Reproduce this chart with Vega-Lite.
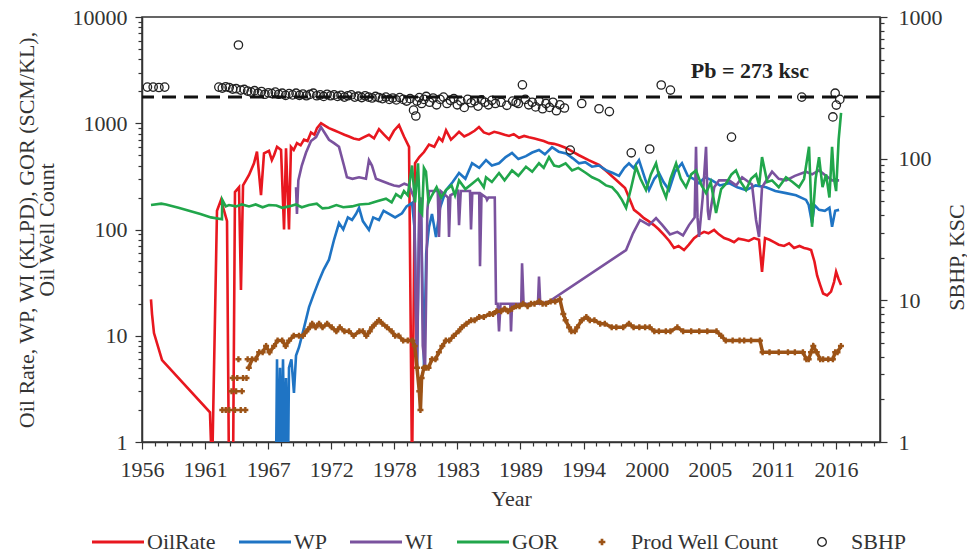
{
  "$schema": "https://vega.github.io/schema/vega-lite/v6.json",
  "width": 738,
  "height": 425,
  "padding": {"left": 15, "top": 6, "right": 0, "bottom": 4},
  "background": "white",
  "config": {
    "font": "Liberation Serif",
    "view": {"stroke": "#333", "strokeWidth": 1.5},
    "axis": {
      "grid": false,
      "domainColor": "#333",
      "domainWidth": 1.5,
      "tickColor": "#333",
      "tickWidth": 1.2,
      "labelColor": "#333",
      "titleColor": "#333",
      "labelFont": "Liberation Serif",
      "titleFont": "Liberation Serif",
      "labelFontSize": 22,
      "titleFontSize": 22,
      "titleFontWeight": "normal",
      "labelFlush": false
    }
  },
  "data": {
    "values": [
      {"series": "OilRate", "year": 1957.11, "value": 22},
      {"series": "OilRate", "year": 1957.2, "value": 16},
      {"series": "OilRate", "year": 1957.37, "value": 10.6},
      {"series": "OilRate", "year": 1958.07, "value": 5.9},
      {"series": "OilRate", "year": 1962.23, "value": 1.9},
      {"series": "OilRate", "year": 1962.41, "value": 0.5},
      {"series": "OilRate", "year": 1962.84, "value": 150},
      {"series": "OilRate", "year": 1963.19, "value": 190},
      {"series": "OilRate", "year": 1963.71, "value": 120},
      {"series": "OilRate", "year": 1963.88, "value": 0.5},
      {"series": "OilRate", "year": 1964.23, "value": 0.5},
      {"series": "OilRate", "year": 1964.4, "value": 225},
      {"series": "OilRate", "year": 1964.75, "value": 250},
      {"series": "OilRate", "year": 1964.92, "value": 27},
      {"series": "OilRate", "year": 1965.1, "value": 260},
      {"series": "OilRate", "year": 1965.62, "value": 326},
      {"series": "OilRate", "year": 1966.05, "value": 420},
      {"series": "OilRate", "year": 1966.31, "value": 540},
      {"series": "OilRate", "year": 1966.66, "value": 211},
      {"series": "OilRate", "year": 1966.92, "value": 520},
      {"series": "OilRate", "year": 1967.35, "value": 550},
      {"series": "OilRate", "year": 1967.6, "value": 450},
      {"series": "OilRate", "year": 1967.79, "value": 500},
      {"series": "OilRate", "year": 1968.05, "value": 600},
      {"series": "OilRate", "year": 1968.4, "value": 560},
      {"series": "OilRate", "year": 1968.66, "value": 100},
      {"series": "OilRate", "year": 1968.83, "value": 580},
      {"series": "OilRate", "year": 1969.09, "value": 100},
      {"series": "OilRate", "year": 1969.26, "value": 600},
      {"series": "OilRate", "year": 1969.5, "value": 560},
      {"series": "OilRate", "year": 1969.78, "value": 650},
      {"series": "OilRate", "year": 1970.1, "value": 620},
      {"series": "OilRate", "year": 1970.39, "value": 700},
      {"series": "OilRate", "year": 1970.7, "value": 680},
      {"series": "OilRate", "year": 1971.0, "value": 820},
      {"series": "OilRate", "year": 1971.3, "value": 780},
      {"series": "OilRate", "year": 1971.52, "value": 900},
      {"series": "OilRate", "year": 1971.87, "value": 1000},
      {"series": "OilRate", "year": 1972.2, "value": 950},
      {"series": "OilRate", "year": 1972.56, "value": 900},
      {"series": "OilRate", "year": 1973.0, "value": 860},
      {"series": "OilRate", "year": 1973.43, "value": 820},
      {"series": "OilRate", "year": 1973.9, "value": 780},
      {"series": "OilRate", "year": 1974.3, "value": 750},
      {"series": "OilRate", "year": 1974.7, "value": 720},
      {"series": "OilRate", "year": 1975.17, "value": 700},
      {"series": "OilRate", "year": 1975.6, "value": 740},
      {"series": "OilRate", "year": 1976.03, "value": 780},
      {"series": "OilRate", "year": 1976.47, "value": 720},
      {"series": "OilRate", "year": 1976.9, "value": 880},
      {"series": "OilRate", "year": 1977.34, "value": 780},
      {"series": "OilRate", "year": 1977.77, "value": 700},
      {"series": "OilRate", "year": 1978.2, "value": 850},
      {"series": "OilRate", "year": 1978.64, "value": 960},
      {"series": "OilRate", "year": 1979.07, "value": 750},
      {"series": "OilRate", "year": 1979.51, "value": 600},
      {"series": "OilRate", "year": 1979.77, "value": 0.5},
      {"series": "OilRate", "year": 1980.03, "value": 420},
      {"series": "OilRate", "year": 1980.4, "value": 480},
      {"series": "OilRate", "year": 1980.81, "value": 536},
      {"series": "OilRate", "year": 1981.24, "value": 630},
      {"series": "OilRate", "year": 1981.7, "value": 600},
      {"series": "OilRate", "year": 1982.11, "value": 730},
      {"series": "OilRate", "year": 1982.4, "value": 680},
      {"series": "OilRate", "year": 1982.72, "value": 860},
      {"series": "OilRate", "year": 1983.15, "value": 700},
      {"series": "OilRate", "year": 1983.5, "value": 760},
      {"series": "OilRate", "year": 1983.85, "value": 830},
      {"series": "OilRate", "year": 1984.3, "value": 750},
      {"series": "OilRate", "year": 1984.72, "value": 790},
      {"series": "OilRate", "year": 1985.2, "value": 850},
      {"series": "OilRate", "year": 1985.58, "value": 920},
      {"series": "OilRate", "year": 1986.0, "value": 820},
      {"series": "OilRate", "year": 1986.45, "value": 790},
      {"series": "OilRate", "year": 1986.9, "value": 830},
      {"series": "OilRate", "year": 1987.32, "value": 810},
      {"series": "OilRate", "year": 1987.8, "value": 780},
      {"series": "OilRate", "year": 1988.19, "value": 760},
      {"series": "OilRate", "year": 1988.6, "value": 790},
      {"series": "OilRate", "year": 1989.06, "value": 730},
      {"series": "OilRate", "year": 1989.5, "value": 760},
      {"series": "OilRate", "year": 1989.92, "value": 740},
      {"series": "OilRate", "year": 1990.4, "value": 720},
      {"series": "OilRate", "year": 1990.79, "value": 700},
      {"series": "OilRate", "year": 1991.2, "value": 680},
      {"series": "OilRate", "year": 1991.66, "value": 650},
      {"series": "OilRate", "year": 1992.1, "value": 640},
      {"series": "OilRate", "year": 1992.53, "value": 620},
      {"series": "OilRate", "year": 1993.14, "value": 585},
      {"series": "OilRate", "year": 1993.7, "value": 540},
      {"series": "OilRate", "year": 1994.26, "value": 500},
      {"series": "OilRate", "year": 1995.1, "value": 450},
      {"series": "OilRate", "year": 1996.0, "value": 405},
      {"series": "OilRate", "year": 1996.7, "value": 350},
      {"series": "OilRate", "year": 1997.3, "value": 305},
      {"series": "OilRate", "year": 1998.26, "value": 246},
      {"series": "OilRate", "year": 1998.6, "value": 200},
      {"series": "OilRate", "year": 1999.04, "value": 153},
      {"series": "OilRate", "year": 1999.5, "value": 140},
      {"series": "OilRate", "year": 1999.9, "value": 128},
      {"series": "OilRate", "year": 2000.3, "value": 120},
      {"series": "OilRate", "year": 2000.77, "value": 110},
      {"series": "OilRate", "year": 2001.2, "value": 100},
      {"series": "OilRate", "year": 2001.64, "value": 89},
      {"series": "OilRate", "year": 2002.1, "value": 78},
      {"series": "OilRate", "year": 2002.51, "value": 67},
      {"series": "OilRate", "year": 2002.9, "value": 70},
      {"series": "OilRate", "year": 2003.38, "value": 64},
      {"series": "OilRate", "year": 2003.8, "value": 72},
      {"series": "OilRate", "year": 2004.25, "value": 83},
      {"series": "OilRate", "year": 2004.7, "value": 90},
      {"series": "OilRate", "year": 2005.12, "value": 95},
      {"series": "OilRate", "year": 2005.5, "value": 92},
      {"series": "OilRate", "year": 2005.99, "value": 99},
      {"series": "OilRate", "year": 2006.4, "value": 90},
      {"series": "OilRate", "year": 2006.86, "value": 83},
      {"series": "OilRate", "year": 2007.3, "value": 80},
      {"series": "OilRate", "year": 2007.72, "value": 76},
      {"series": "OilRate", "year": 2008.1, "value": 82},
      {"series": "OilRate", "year": 2008.59, "value": 80},
      {"series": "OilRate", "year": 2009.0, "value": 78},
      {"series": "OilRate", "year": 2009.46, "value": 83},
      {"series": "OilRate", "year": 2009.89, "value": 80},
      {"series": "OilRate", "year": 2010.15, "value": 40},
      {"series": "OilRate", "year": 2010.41, "value": 83},
      {"series": "OilRate", "year": 2010.8, "value": 80},
      {"series": "OilRate", "year": 2011.19, "value": 76},
      {"series": "OilRate", "year": 2011.6, "value": 72},
      {"series": "OilRate", "year": 2012.06, "value": 70},
      {"series": "OilRate", "year": 2012.5, "value": 74},
      {"series": "OilRate", "year": 2012.93, "value": 67},
      {"series": "OilRate", "year": 2013.4, "value": 70},
      {"series": "OilRate", "year": 2013.8, "value": 67},
      {"series": "OilRate", "year": 2014.1, "value": 66},
      {"series": "OilRate", "year": 2014.41, "value": 64},
      {"series": "OilRate", "year": 2014.7, "value": 50},
      {"series": "OilRate", "year": 2014.93, "value": 37},
      {"series": "OilRate", "year": 2015.2, "value": 30},
      {"series": "OilRate", "year": 2015.45, "value": 25},
      {"series": "OilRate", "year": 2015.8, "value": 24},
      {"series": "OilRate", "year": 2016.14, "value": 26},
      {"series": "OilRate", "year": 2016.4, "value": 32},
      {"series": "OilRate", "year": 2016.58, "value": 40},
      {"series": "OilRate", "year": 2016.8, "value": 34},
      {"series": "OilRate", "year": 2017.01, "value": 30},

      {"series": "WP", "year": 1967.96, "value": 0.5},
      {"series": "WP", "year": 1968.05, "value": 6},
      {"series": "WP", "year": 1968.13, "value": 0.5},
      {"series": "WP", "year": 1968.31, "value": 5},
      {"series": "WP", "year": 1968.4, "value": 0.5},
      {"series": "WP", "year": 1968.57, "value": 6},
      {"series": "WP", "year": 1968.7, "value": 0.5},
      {"series": "WP", "year": 1968.83, "value": 4},
      {"series": "WP", "year": 1969.0, "value": 0.5},
      {"series": "WP", "year": 1969.09, "value": 5},
      {"series": "WP", "year": 1969.3, "value": 6},
      {"series": "WP", "year": 1969.52, "value": 2.9},
      {"series": "WP", "year": 1969.7, "value": 6.5},
      {"series": "WP", "year": 1969.96, "value": 7.8},
      {"series": "WP", "year": 1970.4, "value": 12},
      {"series": "WP", "year": 1970.83, "value": 18.6},
      {"series": "WP", "year": 1971.2, "value": 24},
      {"series": "WP", "year": 1971.69, "value": 33},
      {"series": "WP", "year": 1972.1, "value": 42},
      {"series": "WP", "year": 1972.56, "value": 52},
      {"series": "WP", "year": 1973.0, "value": 80},
      {"series": "WP", "year": 1973.43, "value": 115},
      {"series": "WP", "year": 1973.8, "value": 100},
      {"series": "WP", "year": 1974.2, "value": 130},
      {"series": "WP", "year": 1974.56, "value": 123},
      {"series": "WP", "year": 1974.9, "value": 140},
      {"series": "WP", "year": 1975.17, "value": 160},
      {"series": "WP", "year": 1975.5, "value": 120},
      {"series": "WP", "year": 1976.03, "value": 99},
      {"series": "WP", "year": 1976.4, "value": 130},
      {"series": "WP", "year": 1976.9, "value": 123},
      {"series": "WP", "year": 1977.3, "value": 150},
      {"series": "WP", "year": 1977.77, "value": 140},
      {"series": "WP", "year": 1978.3, "value": 130},
      {"series": "WP", "year": 1978.9, "value": 142},
      {"series": "WP", "year": 1979.3, "value": 165},
      {"series": "WP", "year": 1979.77, "value": 178},
      {"series": "WP", "year": 1980.0, "value": 100},
      {"series": "WP", "year": 1980.2, "value": 5},
      {"series": "WP", "year": 1980.4, "value": 120},
      {"series": "WP", "year": 1980.55, "value": 150},
      {"series": "WP", "year": 1980.7, "value": 20},
      {"series": "WP", "year": 1980.81, "value": 5},
      {"series": "WP", "year": 1981.0, "value": 60},
      {"series": "WP", "year": 1981.24, "value": 105},
      {"series": "WP", "year": 1981.5, "value": 140},
      {"series": "WP", "year": 1981.85, "value": 85},
      {"series": "WP", "year": 1982.2, "value": 160},
      {"series": "WP", "year": 1982.72, "value": 235},
      {"series": "WP", "year": 1983.3, "value": 280},
      {"series": "WP", "year": 1983.85, "value": 340},
      {"series": "WP", "year": 1984.4, "value": 300},
      {"series": "WP", "year": 1984.98, "value": 420},
      {"series": "WP", "year": 1985.6, "value": 380},
      {"series": "WP", "year": 1986.19, "value": 450},
      {"series": "WP", "year": 1986.7, "value": 400},
      {"series": "WP", "year": 1987.32, "value": 420},
      {"series": "WP", "year": 1987.9, "value": 480},
      {"series": "WP", "year": 1988.45, "value": 525},
      {"series": "WP", "year": 1989.0, "value": 460},
      {"series": "WP", "year": 1989.66, "value": 490},
      {"series": "WP", "year": 1990.2, "value": 530},
      {"series": "WP", "year": 1990.79, "value": 560},
      {"series": "WP", "year": 1991.3, "value": 510},
      {"series": "WP", "year": 1991.92, "value": 595},
      {"series": "WP", "year": 1992.5, "value": 540},
      {"series": "WP", "year": 1993.14, "value": 520},
      {"series": "WP", "year": 1993.7, "value": 470},
      {"series": "WP", "year": 1994.26, "value": 420},
      {"series": "WP", "year": 1994.8, "value": 430},
      {"series": "WP", "year": 1995.39, "value": 390},
      {"series": "WP", "year": 1996.0, "value": 400},
      {"series": "WP", "year": 1996.6, "value": 362},
      {"series": "WP", "year": 1997.2, "value": 340},
      {"series": "WP", "year": 1997.74, "value": 320},
      {"series": "WP", "year": 1998.2, "value": 380},
      {"series": "WP", "year": 1998.6, "value": 420},
      {"series": "WP", "year": 1999.0, "value": 380},
      {"series": "WP", "year": 1999.47, "value": 450},
      {"series": "WP", "year": 2000.0, "value": 300},
      {"series": "WP", "year": 2000.34, "value": 235},
      {"series": "WP", "year": 2000.8, "value": 300},
      {"series": "WP", "year": 2001.21, "value": 340},
      {"series": "WP", "year": 2001.6, "value": 280},
      {"series": "WP", "year": 2002.08, "value": 235},
      {"series": "WP", "year": 2002.6, "value": 350},
      {"series": "WP", "year": 2003.2, "value": 420},
      {"series": "WP", "year": 2003.7, "value": 320},
      {"series": "WP", "year": 2004.2, "value": 300},
      {"series": "WP", "year": 2004.68, "value": 273},
      {"series": "WP", "year": 2005.2, "value": 310},
      {"series": "WP", "year": 2005.81, "value": 290},
      {"series": "WP", "year": 2006.5, "value": 260},
      {"series": "WP", "year": 2007.29, "value": 273},
      {"series": "WP", "year": 2008.0, "value": 250},
      {"series": "WP", "year": 2008.76, "value": 235},
      {"series": "WP", "year": 2009.6, "value": 260},
      {"series": "WP", "year": 2010.5, "value": 250},
      {"series": "WP", "year": 2011.3, "value": 230},
      {"series": "WP", "year": 2012.23, "value": 220},
      {"series": "WP", "year": 2013.1, "value": 210},
      {"series": "WP", "year": 2013.97, "value": 190},
      {"series": "WP", "year": 2014.2, "value": 170},
      {"series": "WP", "year": 2014.49, "value": 115},
      {"series": "WP", "year": 2014.7, "value": 170},
      {"series": "WP", "year": 2015.1, "value": 153},
      {"series": "WP", "year": 2015.6, "value": 150},
      {"series": "WP", "year": 2016.0, "value": 160},
      {"series": "WP", "year": 2016.23, "value": 106},
      {"series": "WP", "year": 2016.5, "value": 150},
      {"series": "WP", "year": 2016.84, "value": 153},

      {"series": "WI", "year": 1969.7, "value": 250},
      {"series": "WI", "year": 1969.78, "value": 140},
      {"series": "WI", "year": 1969.9, "value": 290},
      {"series": "WI", "year": 1970.2, "value": 400},
      {"series": "WI", "year": 1970.57, "value": 530},
      {"series": "WI", "year": 1971.0, "value": 680},
      {"series": "WI", "year": 1971.44, "value": 740},
      {"series": "WI", "year": 1971.87, "value": 920},
      {"series": "WI", "year": 1972.22, "value": 800},
      {"series": "WI", "year": 1972.56, "value": 700},
      {"series": "WI", "year": 1973.0, "value": 650},
      {"series": "WI", "year": 1973.43, "value": 600},
      {"series": "WI", "year": 1973.86, "value": 400},
      {"series": "WI", "year": 1974.12, "value": 310},
      {"series": "WI", "year": 1974.6, "value": 300},
      {"series": "WI", "year": 1975.17, "value": 310},
      {"series": "WI", "year": 1975.77, "value": 300},
      {"series": "WI", "year": 1976.03, "value": 450},
      {"series": "WI", "year": 1976.29, "value": 400},
      {"series": "WI", "year": 1976.64, "value": 300},
      {"series": "WI", "year": 1977.2, "value": 285},
      {"series": "WI", "year": 1977.77, "value": 270},
      {"series": "WI", "year": 1978.2, "value": 260},
      {"series": "WI", "year": 1978.64, "value": 255},
      {"series": "WI", "year": 1979.1, "value": 270},
      {"series": "WI", "year": 1979.51, "value": 260},
      {"series": "WI", "year": 1979.94, "value": 200},
      {"series": "WI", "year": 1980.2, "value": 5},
      {"series": "WI", "year": 1980.4, "value": 180},
      {"series": "WI", "year": 1980.55, "value": 200},
      {"series": "WI", "year": 1980.7, "value": 8},
      {"series": "WI", "year": 1980.9, "value": 5},
      {"series": "WI", "year": 1981.1, "value": 150},
      {"series": "WI", "year": 1981.24, "value": 230},
      {"series": "WI", "year": 1982.0, "value": 230},
      {"series": "WI", "year": 1982.11, "value": 85},
      {"series": "WI", "year": 1982.25, "value": 230},
      {"series": "WI", "year": 1982.9, "value": 200},
      {"series": "WI", "year": 1982.98, "value": 85},
      {"series": "WI", "year": 1983.1, "value": 210},
      {"series": "WI", "year": 1983.75, "value": 230},
      {"series": "WI", "year": 1983.85, "value": 110},
      {"series": "WI", "year": 1984.0, "value": 230},
      {"series": "WI", "year": 1984.8, "value": 230},
      {"series": "WI", "year": 1984.89, "value": 100},
      {"series": "WI", "year": 1985.0, "value": 220},
      {"series": "WI", "year": 1985.6, "value": 220},
      {"series": "WI", "year": 1985.67, "value": 45},
      {"series": "WI", "year": 1985.8, "value": 215},
      {"series": "WI", "year": 1986.2, "value": 200},
      {"series": "WI", "year": 1986.28, "value": 190},
      {"series": "WI", "year": 1986.4, "value": 200},
      {"series": "WI", "year": 1986.95, "value": 200},
      {"series": "WI", "year": 1987.06, "value": 20},
      {"series": "WI", "year": 1987.2, "value": 20},
      {"series": "WI", "year": 1987.32, "value": 11},
      {"series": "WI", "year": 1987.45, "value": 20},
      {"series": "WI", "year": 1988.3, "value": 20},
      {"series": "WI", "year": 1988.36, "value": 11},
      {"series": "WI", "year": 1988.45, "value": 20},
      {"series": "WI", "year": 1989.25, "value": 20},
      {"series": "WI", "year": 1989.32, "value": 48},
      {"series": "WI", "year": 1989.45, "value": 20},
      {"series": "WI", "year": 1990.7, "value": 20},
      {"series": "WI", "year": 1990.79, "value": 36},
      {"series": "WI", "year": 1990.9, "value": 20},
      {"series": "WI", "year": 1991.66, "value": 21},
      {"series": "WI", "year": 1998.35, "value": 64},
      {"series": "WI", "year": 1998.95, "value": 92},
      {"series": "WI", "year": 1999.56, "value": 123},
      {"series": "WI", "year": 2000.34, "value": 110},
      {"series": "WI", "year": 2000.95, "value": 128},
      {"series": "WI", "year": 2001.5, "value": 110},
      {"series": "WI", "year": 2002.16, "value": 90},
      {"series": "WI", "year": 2002.8, "value": 95},
      {"series": "WI", "year": 2003.29, "value": 88},
      {"series": "WI", "year": 2003.81, "value": 110},
      {"series": "WI", "year": 2004.3, "value": 130},
      {"series": "WI", "year": 2004.42, "value": 600},
      {"series": "WI", "year": 2004.55, "value": 130},
      {"series": "WI", "year": 2004.68, "value": 85},
      {"series": "WI", "year": 2005.0, "value": 200},
      {"series": "WI", "year": 2005.29, "value": 600},
      {"series": "WI", "year": 2005.45, "value": 150},
      {"series": "WI", "year": 2005.55, "value": 123},
      {"series": "WI", "year": 2006.0, "value": 250},
      {"series": "WI", "year": 2006.42, "value": 290},
      {"series": "WI", "year": 2007.29, "value": 290},
      {"series": "WI", "year": 2007.9, "value": 260},
      {"series": "WI", "year": 2008.42, "value": 310},
      {"series": "WI", "year": 2009.28, "value": 265},
      {"series": "WI", "year": 2009.63, "value": 123},
      {"series": "WI", "year": 2009.89, "value": 85},
      {"series": "WI", "year": 2010.15, "value": 250},
      {"series": "WI", "year": 2011.02, "value": 350},
      {"series": "WI", "year": 2011.6, "value": 300},
      {"series": "WI", "year": 2012.23, "value": 290},
      {"series": "WI", "year": 2013.0, "value": 320},
      {"series": "WI", "year": 2013.97, "value": 350},
      {"series": "WI", "year": 2014.5, "value": 330},
      {"series": "WI", "year": 2015.1, "value": 360},
      {"series": "WI", "year": 2015.7, "value": 320},
      {"series": "WI", "year": 2016.23, "value": 290},
      {"series": "WI", "year": 2016.84, "value": 290},

      {"series": "GOR", "year": 1957.11, "value": 170},
      {"series": "GOR", "year": 1958.0, "value": 175},
      {"series": "GOR", "year": 1958.41, "value": 172},
      {"series": "GOR", "year": 1959.5, "value": 160},
      {"series": "GOR", "year": 1960.41, "value": 150},
      {"series": "GOR", "year": 1961.4, "value": 140},
      {"series": "GOR", "year": 1962.32, "value": 130},
      {"series": "GOR", "year": 1963.27, "value": 125},
      {"series": "GOR", "year": 1963.3, "value": 190},
      {"series": "GOR", "year": 1963.6, "value": 165},
      {"series": "GOR", "year": 1963.88, "value": 170},
      {"series": "GOR", "year": 1964.5, "value": 165},
      {"series": "GOR", "year": 1965.0, "value": 172},
      {"series": "GOR", "year": 1965.62, "value": 165},
      {"series": "GOR", "year": 1966.2, "value": 172},
      {"series": "GOR", "year": 1966.8, "value": 162},
      {"series": "GOR", "year": 1967.35, "value": 170},
      {"series": "GOR", "year": 1968.0, "value": 168},
      {"series": "GOR", "year": 1968.5, "value": 160},
      {"series": "GOR", "year": 1969.09, "value": 165},
      {"series": "GOR", "year": 1969.7, "value": 172},
      {"series": "GOR", "year": 1970.2, "value": 162},
      {"series": "GOR", "year": 1970.83, "value": 170},
      {"series": "GOR", "year": 1971.5, "value": 175},
      {"series": "GOR", "year": 1972.0, "value": 158},
      {"series": "GOR", "year": 1972.56, "value": 160},
      {"series": "GOR", "year": 1973.2, "value": 170},
      {"series": "GOR", "year": 1973.8, "value": 162},
      {"series": "GOR", "year": 1974.56, "value": 165},
      {"series": "GOR", "year": 1975.2, "value": 172},
      {"series": "GOR", "year": 1976.03, "value": 175},
      {"series": "GOR", "year": 1976.8, "value": 185},
      {"series": "GOR", "year": 1977.51, "value": 195},
      {"series": "GOR", "year": 1978.0, "value": 180},
      {"series": "GOR", "year": 1978.38, "value": 215},
      {"series": "GOR", "year": 1978.8, "value": 200},
      {"series": "GOR", "year": 1979.07, "value": 230},
      {"series": "GOR", "year": 1979.4, "value": 210},
      {"series": "GOR", "year": 1979.77, "value": 400},
      {"series": "GOR", "year": 1980.03, "value": 180},
      {"series": "GOR", "year": 1980.29, "value": 420},
      {"series": "GOR", "year": 1980.45, "value": 150},
      {"series": "GOR", "year": 1980.64, "value": 140},
      {"series": "GOR", "year": 1980.8, "value": 380},
      {"series": "GOR", "year": 1980.98, "value": 350},
      {"series": "GOR", "year": 1981.2, "value": 180},
      {"series": "GOR", "year": 1981.5, "value": 210},
      {"series": "GOR", "year": 1981.9, "value": 250},
      {"series": "GOR", "year": 1982.3, "value": 200},
      {"series": "GOR", "year": 1982.72, "value": 235},
      {"series": "GOR", "year": 1983.2, "value": 260},
      {"series": "GOR", "year": 1983.5, "value": 210},
      {"series": "GOR", "year": 1983.85, "value": 290},
      {"series": "GOR", "year": 1984.4, "value": 240},
      {"series": "GOR", "year": 1984.98, "value": 270},
      {"series": "GOR", "year": 1985.5, "value": 300},
      {"series": "GOR", "year": 1986.0, "value": 250},
      {"series": "GOR", "year": 1986.19, "value": 310},
      {"series": "GOR", "year": 1986.7, "value": 280},
      {"series": "GOR", "year": 1987.32, "value": 340},
      {"series": "GOR", "year": 1987.8, "value": 290},
      {"series": "GOR", "year": 1988.45, "value": 360},
      {"series": "GOR", "year": 1989.0, "value": 320},
      {"series": "GOR", "year": 1989.66, "value": 390},
      {"series": "GOR", "year": 1990.2, "value": 350},
      {"series": "GOR", "year": 1990.79, "value": 420},
      {"series": "GOR", "year": 1991.2, "value": 380},
      {"series": "GOR", "year": 1991.66, "value": 480},
      {"series": "GOR", "year": 1992.1, "value": 400},
      {"series": "GOR", "year": 1992.53, "value": 390},
      {"series": "GOR", "year": 1993.1, "value": 420},
      {"series": "GOR", "year": 1993.66, "value": 360},
      {"series": "GOR", "year": 1994.2, "value": 380},
      {"series": "GOR", "year": 1994.87, "value": 340},
      {"series": "GOR", "year": 1995.4, "value": 310},
      {"series": "GOR", "year": 1996.0, "value": 290},
      {"series": "GOR", "year": 1996.6, "value": 260},
      {"series": "GOR", "year": 1997.13, "value": 250},
      {"series": "GOR", "year": 1997.6, "value": 220},
      {"series": "GOR", "year": 1997.99, "value": 190},
      {"series": "GOR", "year": 1998.35, "value": 160},
      {"series": "GOR", "year": 1998.8, "value": 250},
      {"series": "GOR", "year": 1999.21, "value": 390},
      {"series": "GOR", "year": 1999.6, "value": 300},
      {"series": "GOR", "year": 2000.08, "value": 235},
      {"series": "GOR", "year": 2000.5, "value": 330},
      {"series": "GOR", "year": 2000.95, "value": 420},
      {"series": "GOR", "year": 2001.4, "value": 260},
      {"series": "GOR", "year": 2001.82, "value": 200},
      {"series": "GOR", "year": 2002.2, "value": 300},
      {"series": "GOR", "year": 2002.69, "value": 420},
      {"series": "GOR", "year": 2003.1, "value": 300},
      {"series": "GOR", "year": 2003.55, "value": 250},
      {"series": "GOR", "year": 2004.0, "value": 330},
      {"series": "GOR", "year": 2004.42, "value": 360},
      {"series": "GOR", "year": 2004.9, "value": 260},
      {"series": "GOR", "year": 2005.29, "value": 220},
      {"series": "GOR", "year": 2005.7, "value": 280},
      {"series": "GOR", "year": 2006.16, "value": 143},
      {"series": "GOR", "year": 2006.6, "value": 240},
      {"series": "GOR", "year": 2007.02, "value": 270},
      {"series": "GOR", "year": 2007.5, "value": 330},
      {"series": "GOR", "year": 2007.89, "value": 360},
      {"series": "GOR", "year": 2008.3, "value": 280},
      {"series": "GOR", "year": 2008.76, "value": 235},
      {"series": "GOR", "year": 2009.2, "value": 300},
      {"series": "GOR", "year": 2009.63, "value": 330},
      {"series": "GOR", "year": 2009.9, "value": 260},
      {"series": "GOR", "year": 2010.15, "value": 480},
      {"series": "GOR", "year": 2010.6, "value": 280},
      {"series": "GOR", "year": 2011.02, "value": 290},
      {"series": "GOR", "year": 2011.6, "value": 250},
      {"series": "GOR", "year": 2012.23, "value": 310},
      {"series": "GOR", "year": 2012.8, "value": 280},
      {"series": "GOR", "year": 2013.36, "value": 250},
      {"series": "GOR", "year": 2013.8, "value": 300},
      {"series": "GOR", "year": 2014.23, "value": 600},
      {"series": "GOR", "year": 2014.49, "value": 106},
      {"series": "GOR", "year": 2014.8, "value": 300},
      {"series": "GOR", "year": 2015.1, "value": 480},
      {"series": "GOR", "year": 2015.4, "value": 250},
      {"series": "GOR", "year": 2015.71, "value": 330},
      {"series": "GOR", "year": 2016.0, "value": 200},
      {"series": "GOR", "year": 2016.23, "value": 600},
      {"series": "GOR", "year": 2016.4, "value": 300},
      {"series": "GOR", "year": 2016.58, "value": 230},
      {"series": "GOR", "year": 2016.8, "value": 700},
      {"series": "GOR", "year": 2017.01, "value": 1250},

      {"series": "Prod Well Count", "year": 1963.3, "value": 2},
      {"series": "Prod Well Count", "year": 1963.6, "value": 2},
      {"series": "Prod Well Count", "year": 1963.9, "value": 2},
      {"series": "Prod Well Count", "year": 1964.1, "value": 3},
      {"series": "Prod Well Count", "year": 1964.2, "value": 4},
      {"series": "Prod Well Count", "year": 1964.4, "value": 2},
      {"series": "Prod Well Count", "year": 1964.5, "value": 3},
      {"series": "Prod Well Count", "year": 1964.6, "value": 4},
      {"series": "Prod Well Count", "year": 1964.7, "value": 6},
      {"series": "Prod Well Count", "year": 1964.9, "value": 2},
      {"series": "Prod Well Count", "year": 1965.0, "value": 3},
      {"series": "Prod Well Count", "year": 1965.1, "value": 4},
      {"series": "Prod Well Count", "year": 1965.3, "value": 2},
      {"series": "Prod Well Count", "year": 1965.4, "value": 4},
      {"series": "Prod Well Count", "year": 1965.5, "value": 6},
      {"series": "Prod Well Count", "year": 1965.6, "value": 5},
      {"series": "Prod Well Count", "year": 1965.88, "value": 6},
      {"series": "Prod Well Count", "year": 1966.2, "value": 6},
      {"series": "Prod Well Count", "year": 1966.5, "value": 7},
      {"series": "Prod Well Count", "year": 1966.8, "value": 7},
      {"series": "Prod Well Count", "year": 1967.1, "value": 8},
      {"series": "Prod Well Count", "year": 1967.4, "value": 7},
      {"series": "Prod Well Count", "year": 1967.8, "value": 8},
      {"series": "Prod Well Count", "year": 1968.1, "value": 9},
      {"series": "Prod Well Count", "year": 1968.5, "value": 9},
      {"series": "Prod Well Count", "year": 1968.8, "value": 8},
      {"series": "Prod Well Count", "year": 1969.1, "value": 9},
      {"series": "Prod Well Count", "year": 1969.5, "value": 10},
      {"series": "Prod Well Count", "year": 1969.96, "value": 10},
      {"series": "Prod Well Count", "year": 1970.3, "value": 10},
      {"series": "Prod Well Count", "year": 1970.6, "value": 11},
      {"series": "Prod Well Count", "year": 1970.9, "value": 12},
      {"series": "Prod Well Count", "year": 1971.1, "value": 13},
      {"series": "Prod Well Count", "year": 1971.4, "value": 12},
      {"series": "Prod Well Count", "year": 1971.7, "value": 13},
      {"series": "Prod Well Count", "year": 1972.0, "value": 12},
      {"series": "Prod Well Count", "year": 1972.4, "value": 13},
      {"series": "Prod Well Count", "year": 1972.8, "value": 12},
      {"series": "Prod Well Count", "year": 1973.2, "value": 11},
      {"series": "Prod Well Count", "year": 1973.5, "value": 12},
      {"series": "Prod Well Count", "year": 1973.9, "value": 11},
      {"series": "Prod Well Count", "year": 1974.3, "value": 11},
      {"series": "Prod Well Count", "year": 1974.7, "value": 10},
      {"series": "Prod Well Count", "year": 1975.2, "value": 11},
      {"series": "Prod Well Count", "year": 1975.5, "value": 11},
      {"series": "Prod Well Count", "year": 1975.8, "value": 10},
      {"series": "Prod Well Count", "year": 1976.1, "value": 11},
      {"series": "Prod Well Count", "year": 1976.3, "value": 12},
      {"series": "Prod Well Count", "year": 1976.6, "value": 13},
      {"series": "Prod Well Count", "year": 1976.9, "value": 14},
      {"series": "Prod Well Count", "year": 1977.2, "value": 13},
      {"series": "Prod Well Count", "year": 1977.6, "value": 12},
      {"series": "Prod Well Count", "year": 1978.0, "value": 11},
      {"series": "Prod Well Count", "year": 1978.3, "value": 10},
      {"series": "Prod Well Count", "year": 1978.6, "value": 10},
      {"series": "Prod Well Count", "year": 1979.0, "value": 9},
      {"series": "Prod Well Count", "year": 1979.4, "value": 9},
      {"series": "Prod Well Count", "year": 1979.8, "value": 9},
      {"series": "Prod Well Count", "year": 1980.0, "value": 8},
      {"series": "Prod Well Count", "year": 1980.2, "value": 5},
      {"series": "Prod Well Count", "year": 1980.4, "value": 3},
      {"series": "Prod Well Count", "year": 1980.5, "value": 2},
      {"series": "Prod Well Count", "year": 1980.6, "value": 4},
      {"series": "Prod Well Count", "year": 1980.8, "value": 5},
      {"series": "Prod Well Count", "year": 1980.98, "value": 5},
      {"series": "Prod Well Count", "year": 1981.2, "value": 5},
      {"series": "Prod Well Count", "year": 1981.5, "value": 6},
      {"series": "Prod Well Count", "year": 1981.8, "value": 6},
      {"series": "Prod Well Count", "year": 1982.1, "value": 7},
      {"series": "Prod Well Count", "year": 1982.4, "value": 8},
      {"series": "Prod Well Count", "year": 1982.7, "value": 9},
      {"series": "Prod Well Count", "year": 1983.0, "value": 9},
      {"series": "Prod Well Count", "year": 1983.4, "value": 10},
      {"series": "Prod Well Count", "year": 1983.8, "value": 11},
      {"series": "Prod Well Count", "year": 1984.1, "value": 12},
      {"series": "Prod Well Count", "year": 1984.5, "value": 13},
      {"series": "Prod Well Count", "year": 1984.9, "value": 14},
      {"series": "Prod Well Count", "year": 1985.2, "value": 14},
      {"series": "Prod Well Count", "year": 1985.6, "value": 15},
      {"series": "Prod Well Count", "year": 1986.0, "value": 15},
      {"series": "Prod Well Count", "year": 1986.5, "value": 16},
      {"series": "Prod Well Count", "year": 1986.8, "value": 16},
      {"series": "Prod Well Count", "year": 1987.1, "value": 17},
      {"series": "Prod Well Count", "year": 1987.5, "value": 17},
      {"series": "Prod Well Count", "year": 1987.8, "value": 18},
      {"series": "Prod Well Count", "year": 1988.1, "value": 17},
      {"series": "Prod Well Count", "year": 1988.45, "value": 18},
      {"series": "Prod Well Count", "year": 1988.8, "value": 19},
      {"series": "Prod Well Count", "year": 1989.1, "value": 19},
      {"series": "Prod Well Count", "year": 1989.4, "value": 20},
      {"series": "Prod Well Count", "year": 1989.8, "value": 19},
      {"series": "Prod Well Count", "year": 1990.1, "value": 20},
      {"series": "Prod Well Count", "year": 1990.4, "value": 20},
      {"series": "Prod Well Count", "year": 1990.8, "value": 21},
      {"series": "Prod Well Count", "year": 1991.1, "value": 20},
      {"series": "Prod Well Count", "year": 1991.4, "value": 20},
      {"series": "Prod Well Count", "year": 1991.8, "value": 21},
      {"series": "Prod Well Count", "year": 1992.2, "value": 21},
      {"series": "Prod Well Count", "year": 1992.6, "value": 22},
      {"series": "Prod Well Count", "year": 1992.9, "value": 16},
      {"series": "Prod Well Count", "year": 1993.1, "value": 14},
      {"series": "Prod Well Count", "year": 1993.4, "value": 12},
      {"series": "Prod Well Count", "year": 1993.6, "value": 11},
      {"series": "Prod Well Count", "year": 1993.9, "value": 11},
      {"series": "Prod Well Count", "year": 1994.1, "value": 12},
      {"series": "Prod Well Count", "year": 1994.5, "value": 14},
      {"series": "Prod Well Count", "year": 1994.9, "value": 15},
      {"series": "Prod Well Count", "year": 1995.2, "value": 14},
      {"series": "Prod Well Count", "year": 1995.6, "value": 14},
      {"series": "Prod Well Count", "year": 1996.1, "value": 13},
      {"series": "Prod Well Count", "year": 1996.5, "value": 13},
      {"series": "Prod Well Count", "year": 1997.1, "value": 12},
      {"series": "Prod Well Count", "year": 1997.5, "value": 12},
      {"series": "Prod Well Count", "year": 1998.1, "value": 12},
      {"series": "Prod Well Count", "year": 1998.6, "value": 13},
      {"series": "Prod Well Count", "year": 1999.0, "value": 12},
      {"series": "Prod Well Count", "year": 1999.5, "value": 12},
      {"series": "Prod Well Count", "year": 2000.0, "value": 12},
      {"series": "Prod Well Count", "year": 2000.4, "value": 12},
      {"series": "Prod Well Count", "year": 2000.8, "value": 11},
      {"series": "Prod Well Count", "year": 2001.2, "value": 11},
      {"series": "Prod Well Count", "year": 2001.8, "value": 11},
      {"series": "Prod Well Count", "year": 2002.2, "value": 11},
      {"series": "Prod Well Count", "year": 2002.8, "value": 12},
      {"series": "Prod Well Count", "year": 2003.3, "value": 11},
      {"series": "Prod Well Count", "year": 2004.0, "value": 11},
      {"series": "Prod Well Count", "year": 2004.7, "value": 11},
      {"series": "Prod Well Count", "year": 2005.4, "value": 11},
      {"series": "Prod Well Count", "year": 2006.2, "value": 11},
      {"series": "Prod Well Count", "year": 2006.6, "value": 10},
      {"series": "Prod Well Count", "year": 2007.0, "value": 9},
      {"series": "Prod Well Count", "year": 2007.6, "value": 9},
      {"series": "Prod Well Count", "year": 2008.2, "value": 9},
      {"series": "Prod Well Count", "year": 2008.6, "value": 9},
      {"series": "Prod Well Count", "year": 2009.2, "value": 9},
      {"series": "Prod Well Count", "year": 2009.97, "value": 9},
      {"series": "Prod Well Count", "year": 2010.2, "value": 7},
      {"series": "Prod Well Count", "year": 2010.8, "value": 7},
      {"series": "Prod Well Count", "year": 2011.6, "value": 7},
      {"series": "Prod Well Count", "year": 2012.4, "value": 7},
      {"series": "Prod Well Count", "year": 2013.0, "value": 7},
      {"series": "Prod Well Count", "year": 2013.7, "value": 7},
      {"series": "Prod Well Count", "year": 2014.0, "value": 6},
      {"series": "Prod Well Count", "year": 2014.2, "value": 6},
      {"series": "Prod Well Count", "year": 2014.4, "value": 7},
      {"series": "Prod Well Count", "year": 2014.6, "value": 8},
      {"series": "Prod Well Count", "year": 2014.9, "value": 7},
      {"series": "Prod Well Count", "year": 2015.2, "value": 6},
      {"series": "Prod Well Count", "year": 2015.45, "value": 6},
      {"series": "Prod Well Count", "year": 2015.9, "value": 6},
      {"series": "Prod Well Count", "year": 2016.3, "value": 6},
      {"series": "Prod Well Count", "year": 2016.5, "value": 7},
      {"series": "Prod Well Count", "year": 2016.7, "value": 7},
      {"series": "Prod Well Count", "year": 2017.0, "value": 8},

      {"series": "SBHP", "year": 1956.8, "value": 320},
      {"series": "SBHP", "year": 1957.3, "value": 320},
      {"series": "SBHP", "year": 1957.8, "value": 318},
      {"series": "SBHP", "year": 1958.3, "value": 320},
      {"series": "SBHP", "year": 1963.0, "value": 320},
      {"series": "SBHP", "year": 1963.3, "value": 315},
      {"series": "SBHP", "year": 1963.6, "value": 322},
      {"series": "SBHP", "year": 1963.9, "value": 318},
      {"series": "SBHP", "year": 1964.2, "value": 310},
      {"series": "SBHP", "year": 1964.5, "value": 312},
      {"series": "SBHP", "year": 1964.7, "value": 634},
      {"series": "SBHP", "year": 1964.9, "value": 305},
      {"series": "SBHP", "year": 1965.2, "value": 308},
      {"series": "SBHP", "year": 1965.5, "value": 300},
      {"series": "SBHP", "year": 1965.8, "value": 295},
      {"series": "SBHP", "year": 1966.1, "value": 302},
      {"series": "SBHP", "year": 1966.4, "value": 290},
      {"series": "SBHP", "year": 1966.7, "value": 298},
      {"series": "SBHP", "year": 1967.0, "value": 285},
      {"series": "SBHP", "year": 1967.3, "value": 292},
      {"series": "SBHP", "year": 1967.6, "value": 288},
      {"series": "SBHP", "year": 1967.9, "value": 295},
      {"series": "SBHP", "year": 1968.2, "value": 285},
      {"series": "SBHP", "year": 1968.5, "value": 290},
      {"series": "SBHP", "year": 1968.8, "value": 280},
      {"series": "SBHP", "year": 1969.1, "value": 288},
      {"series": "SBHP", "year": 1969.4, "value": 282},
      {"series": "SBHP", "year": 1969.7, "value": 290},
      {"series": "SBHP", "year": 1970.0, "value": 280},
      {"series": "SBHP", "year": 1970.3, "value": 286},
      {"series": "SBHP", "year": 1970.6, "value": 278},
      {"series": "SBHP", "year": 1970.9, "value": 284},
      {"series": "SBHP", "year": 1971.2, "value": 290},
      {"series": "SBHP", "year": 1971.5, "value": 278},
      {"series": "SBHP", "year": 1971.8, "value": 282},
      {"series": "SBHP", "year": 1972.1, "value": 275},
      {"series": "SBHP", "year": 1972.4, "value": 285},
      {"series": "SBHP", "year": 1972.7, "value": 278},
      {"series": "SBHP", "year": 1973.0, "value": 282},
      {"series": "SBHP", "year": 1973.3, "value": 275},
      {"series": "SBHP", "year": 1973.6, "value": 280},
      {"series": "SBHP", "year": 1973.9, "value": 272},
      {"series": "SBHP", "year": 1974.2, "value": 278},
      {"series": "SBHP", "year": 1974.5, "value": 282},
      {"series": "SBHP", "year": 1974.8, "value": 272},
      {"series": "SBHP", "year": 1975.1, "value": 276},
      {"series": "SBHP", "year": 1975.4, "value": 270},
      {"series": "SBHP", "year": 1975.7, "value": 278},
      {"series": "SBHP", "year": 1976.0, "value": 272},
      {"series": "SBHP", "year": 1976.3, "value": 268},
      {"series": "SBHP", "year": 1976.6, "value": 275},
      {"series": "SBHP", "year": 1976.9, "value": 270},
      {"series": "SBHP", "year": 1977.2, "value": 265},
      {"series": "SBHP", "year": 1977.5, "value": 272},
      {"series": "SBHP", "year": 1977.8, "value": 262},
      {"series": "SBHP", "year": 1978.1, "value": 268},
      {"series": "SBHP", "year": 1978.4, "value": 260},
      {"series": "SBHP", "year": 1978.7, "value": 270},
      {"series": "SBHP", "year": 1979.0, "value": 262},
      {"series": "SBHP", "year": 1979.3, "value": 255},
      {"series": "SBHP", "year": 1979.6, "value": 265},
      {"series": "SBHP", "year": 1979.9, "value": 220},
      {"series": "SBHP", "year": 1980.1, "value": 200},
      {"series": "SBHP", "year": 1980.2, "value": 255},
      {"series": "SBHP", "year": 1980.4, "value": 270},
      {"series": "SBHP", "year": 1980.6, "value": 245},
      {"series": "SBHP", "year": 1980.8, "value": 262},
      {"series": "SBHP", "year": 1981.0, "value": 275},
      {"series": "SBHP", "year": 1981.3, "value": 250},
      {"series": "SBHP", "year": 1981.6, "value": 268},
      {"series": "SBHP", "year": 1981.9, "value": 240},
      {"series": "SBHP", "year": 1982.2, "value": 262},
      {"series": "SBHP", "year": 1982.5, "value": 272},
      {"series": "SBHP", "year": 1982.8, "value": 245},
      {"series": "SBHP", "year": 1983.1, "value": 258},
      {"series": "SBHP", "year": 1983.4, "value": 265},
      {"series": "SBHP", "year": 1983.7, "value": 240},
      {"series": "SBHP", "year": 1984.0, "value": 255},
      {"series": "SBHP", "year": 1984.3, "value": 230},
      {"series": "SBHP", "year": 1984.6, "value": 262},
      {"series": "SBHP", "year": 1984.9, "value": 248},
      {"series": "SBHP", "year": 1985.2, "value": 255},
      {"series": "SBHP", "year": 1985.5, "value": 235},
      {"series": "SBHP", "year": 1985.8, "value": 260},
      {"series": "SBHP", "year": 1986.1, "value": 250},
      {"series": "SBHP", "year": 1986.4, "value": 240},
      {"series": "SBHP", "year": 1986.7, "value": 258},
      {"series": "SBHP", "year": 1987.0, "value": 245},
      {"series": "SBHP", "year": 1987.5, "value": 250},
      {"series": "SBHP", "year": 1988.0, "value": 238},
      {"series": "SBHP", "year": 1988.5, "value": 255},
      {"series": "SBHP", "year": 1988.8, "value": 250},
      {"series": "SBHP", "year": 1989.0, "value": 245},
      {"series": "SBHP", "year": 1989.35, "value": 332},
      {"series": "SBHP", "year": 1989.6, "value": 262},
      {"series": "SBHP", "year": 1989.9, "value": 240},
      {"series": "SBHP", "year": 1990.2, "value": 250},
      {"series": "SBHP", "year": 1990.5, "value": 232},
      {"series": "SBHP", "year": 1990.8, "value": 255},
      {"series": "SBHP", "year": 1991.1, "value": 225},
      {"series": "SBHP", "year": 1991.4, "value": 245},
      {"series": "SBHP", "year": 1991.7, "value": 230},
      {"series": "SBHP", "year": 1992.0, "value": 250},
      {"series": "SBHP", "year": 1992.3, "value": 218},
      {"series": "SBHP", "year": 1992.6, "value": 240},
      {"series": "SBHP", "year": 1993.0, "value": 228},
      {"series": "SBHP", "year": 1993.5, "value": 115},
      {"series": "SBHP", "year": 1994.5, "value": 245},
      {"series": "SBHP", "year": 1996.0, "value": 225},
      {"series": "SBHP", "year": 1996.9, "value": 215},
      {"series": "SBHP", "year": 1998.8, "value": 110},
      {"series": "SBHP", "year": 2000.4, "value": 117},
      {"series": "SBHP", "year": 2001.4, "value": 331},
      {"series": "SBHP", "year": 2002.2, "value": 305},
      {"series": "SBHP", "year": 2007.5, "value": 142},
      {"series": "SBHP", "year": 2013.6, "value": 272},
      {"series": "SBHP", "year": 2016.3, "value": 197},
      {"series": "SBHP", "year": 2016.5, "value": 290},
      {"series": "SBHP", "year": 2016.6, "value": 239},
      {"series": "SBHP", "year": 2016.9, "value": 262}
    ]
  },
  "layer": [
    {
      "encoding": {
        "x": {
          "field": "year",
          "type": "quantitative",
          "scale": {"domain": [1956.33, 2020.39], "nice": false, "zero": false},
          "axis": {
            "title": "Year",
            "titlePadding": 8,
            "tickCount": 200,
            "labelOverlap": false,
            "values": [1956.33, 1957.425, 1958.52, 1959.615, 1960.711, 1961.806, 1962.901, 1963.996, 1965.091, 1966.186, 1967.281, 1968.377, 1969.472, 1970.567, 1971.662, 1972.757, 1973.852, 1974.947, 1976.043, 1977.138, 1978.233, 1979.328, 1980.423, 1981.518, 1982.613, 1983.709, 1984.804, 1985.899, 1986.994, 1988.089, 1989.184, 1990.279, 1991.374, 1992.47, 1993.565, 1994.66, 1995.755, 1996.85, 1997.945, 1999.04, 2000.136, 2001.231, 2002.326, 2003.421, 2004.516, 2005.611, 2006.706, 2007.802, 2008.897, 2009.992, 2011.087, 2012.182, 2013.277, 2014.372, 2015.468, 2016.563, 2017.658, 2018.753, 2019.848],
            "labelExpr": "abs((datum.value - 1956.33) / 5.4757 - round((datum.value - 1956.33) / 5.4757)) < 0.01 ? toString(floor(datum.value)) : ''",
            "tickSize": {"condition": {"test": "abs((datum.value - 1956.33) / 5.4757 - round((datum.value - 1956.33) / 5.4757)) < 0.01", "value": 7}, "value": 4},
            "labelPadding": 10
          }
        },
        "y": {
          "field": "value",
          "type": "quantitative",
          "scale": {"type": "log", "domain": [1, 10000], "nice": false},
          "axis": {
            "title": ["Oil Rate, WP, WI (KLPD), GOR (SCM/KL),", "Oil Well Count"],
            "titlePadding": 14,
            "titleLineHeight": 20,
            "format": "d",
            "tickCount": 200,
            "labelOverlap": false,
            "values": [1, 2, 3, 4, 5, 6, 7, 8, 9, 10, 20, 30, 40, 50, 60, 70, 80, 90, 100, 200, 300, 400, 500, 600, 700, 800, 900, 1000, 2000, 3000, 4000, 5000, 6000, 7000, 8000, 9000, 10000],
            "labelExpr": "abs(log(datum.value) / LN10 - round(log(datum.value) / LN10)) < 0.001 ? datum.label : ''",
            "tickSize": {"condition": {"test": "abs(log(datum.value) / LN10 - round(log(datum.value) / LN10)) < 0.001", "value": 7}, "value": 4},
            "labelPadding": 8
          }
        }
      },
      "layer": [
        {
          "transform": [{"filter": "datum.series === 'OilRate'"}],
          "mark": {"type": "line", "strokeWidth": 2.6, "clip": true},
          "encoding": {
            "color": {
              "field": "series",
              "type": "nominal",
              "scale": {
                "domain": ["OilRate", "WP", "WI", "GOR", "Prod Well Count", "SBHP"],
                "range": ["#e8171f", "#1f74c4", "#7a529e", "#21a64b", "#9c5316", "#222222"]
              },
              "legend": {
                "title": null,
                "orient": "none",
                "legendX": -50,
                "legendY": 514,
                "direction": "horizontal",
                "symbolSize": 2704,
                "symbolStrokeWidth": 3,
                "symbolOffset": 15,
                "labelFont": "Liberation Serif",
                "labelFontSize": 22,
                "labelColor": "#333",
                "labelOffset": 18,
                "labelLimit": 300,
                "columnPadding": 17,
                "encode": {
                  "symbols": {
                    "update": {
                      "shape": {"signal": "datum.value === 'Prod Well Count' ? 'cross' : datum.value === 'SBHP' ? 'circle' : 'stroke'"},
                      "size": {"signal": "datum.value === 'Prod Well Count' ? 45 : datum.value === 'SBHP' ? 75 : 2704"},
                      "fill": {"signal": "datum.value === 'Prod Well Count' ? scale('color', datum.value) : 'transparent'"},
                      "fillOpacity": {"signal": "datum.value === 'Prod Well Count' ? 1 : 0"},
                      "stroke": {"signal": "datum.value === 'Prod Well Count' ? 'transparent' : scale('color', datum.value)"},
                      "strokeOpacity": {"signal": "datum.value === 'Prod Well Count' ? 0 : 1"},
                      "strokeWidth": {"signal": "datum.value === 'SBHP' ? 1.3 : 3"},
                      "opacity": {"value": 1}
                    }
                  }
                }
              }
            }
          }
        },
        {
          "transform": [{"filter": "datum.series === 'WP'"}],
          "mark": {"type": "line", "strokeWidth": 2.6, "clip": true},
          "encoding": {"color": {"field": "series", "type": "nominal"}}
        },
        {
          "transform": [{"filter": "datum.series === 'WI'"}],
          "mark": {"type": "line", "strokeWidth": 2.6, "clip": true},
          "encoding": {"color": {"field": "series", "type": "nominal"}}
        },
        {
          "transform": [{"filter": "datum.series === 'GOR'"}],
          "mark": {"type": "line", "strokeWidth": 2.6, "clip": true},
          "encoding": {"color": {"field": "series", "type": "nominal"}}
        },
        {
          "transform": [{"filter": "datum.series === 'Prod Well Count' && datum.year >= 1965.55"}],
          "mark": {"type": "line", "strokeWidth": 3.5, "color": "#9c5316", "clip": true},
          "encoding": {}
        },
        {
          "transform": [{"filter": "datum.series === 'Prod Well Count'"}],
          "mark": {"type": "point", "shape": "cross", "filled": true, "size": 36, "opacity": 1, "clip": true},
          "encoding": {"color": {"field": "series", "type": "nominal"}}
        }
      ]
    },
    {
      "layer": [
        {
          "transform": [{"filter": "datum.series === 'SBHP'"}],
          "mark": {"type": "point", "shape": "circle", "filled": false, "size": 70, "strokeWidth": 1.3, "opacity": 1},
          "encoding": {
            "x": {"field": "year", "type": "quantitative"},
            "y": {
              "field": "value",
              "type": "quantitative",
              "scale": {"type": "log", "domain": [1, 1000], "nice": false},
              "axis": {
                "title": "SBHP, KSC",
                "orient": "right",
                "titleAngle": 270,
                "titleBaseline": "top",
                "titlePadding": 4,
                "titleY": 240,
                "format": "d",
                "tickCount": 200,
                "labelOverlap": false,
                "values": [1, 2, 3, 4, 5, 6, 7, 8, 9, 10, 20, 30, 40, 50, 60, 70, 80, 90, 100, 200, 300, 400, 500, 600, 700, 800, 900, 1000],
                "labelExpr": "abs(log(datum.value) / LN10 - round(log(datum.value) / LN10)) < 0.001 ? datum.label : ''",
                "tickSize": {"condition": {"test": "abs(log(datum.value) / LN10 - round(log(datum.value) / LN10)) < 0.001", "value": 7}, "value": 4},
                "labelPadding": 11
              }
            },
            "color": {"field": "series", "type": "nominal"}
          }
        },
        {
          "data": {"values": [{"label": "Pb = 273 ksc"}]},
          "mark": {"type": "rule", "strokeWidth": 3, "strokeDash": [14, 8], "color": "#111"},
          "encoding": {"y": {"datum": 273}}
        },
        {
          "data": {"values": [{"label": "Pb = 273 ksc"}]},
          "mark": {"type": "text", "font": "Liberation Serif", "fontSize": 22, "fontWeight": "bold", "color": "#222", "align": "center", "baseline": "middle"},
          "encoding": {
            "x": {"datum": 2009.1},
            "y": {"datum": 415},
            "text": {"field": "label"}
          }
        }
      ]
    }
  ],
  "resolve": {"scale": {"y": "independent"}}
}
